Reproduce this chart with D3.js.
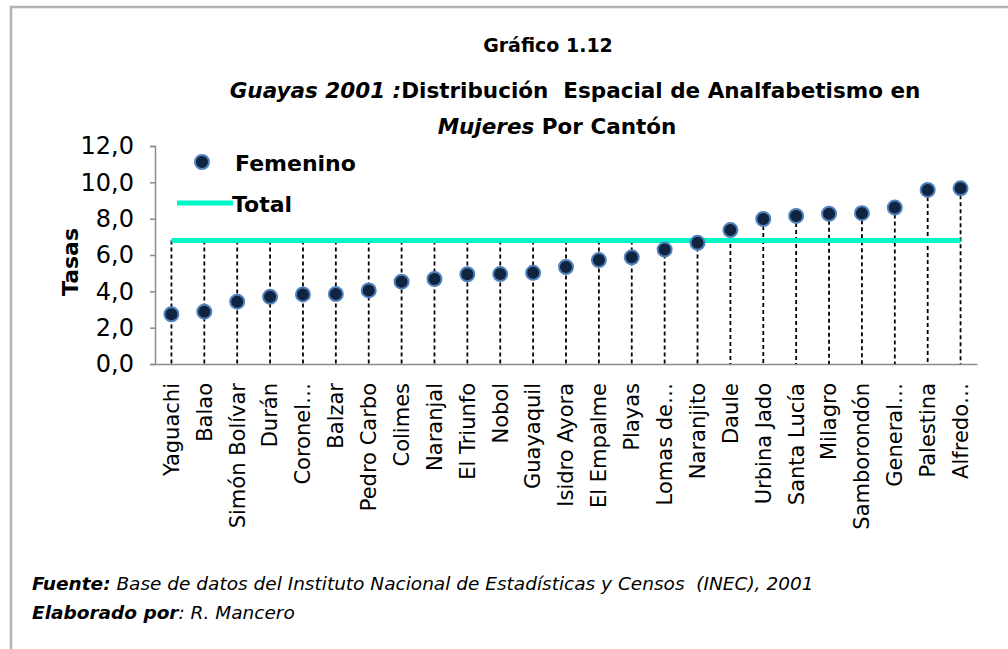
<!DOCTYPE html>
<html>
<head>
<meta charset="utf-8">
<script src="https://cdn.jsdelivr.net/npm/d3@7"></script>
<style>
  body { margin: 0; background: #fff; }
  text { font-family: "DejaVu Sans", sans-serif; fill: #000; white-space: pre; }
</style>
</head>
<body>
<script>
// categorias (cantones) y tasas de analfabetismo femenino
const cantones = ["Yaguachi","Balao","Simón Bolívar","Durán","Coronel…","Balzar","Pedro Carbo","Colimes","Naranjal","El Triunfo","Nobol","Guayaquil","Isidro Ayora","El Empalme","Playas","Lomas de…","Naranjito","Daule","Urbina Jado","Santa Lucía","Milagro","Samborondón","General…","Palestina","Alfredo…"];
const femenino = [2.74,2.88,3.43,3.70,3.83,3.85,4.05,4.53,4.68,4.94,4.95,5.02,5.34,5.72,5.87,6.30,6.67,7.37,7.98,8.15,8.27,8.30,8.61,9.58,9.67];
const tasaTotal = 6.8;
const yTicks = [0,2,4,6,8,10,12];

const W = 1008, H = 649;
const plot = {left: 155, right: 977, top: 146, bottom: 364};

const svg = d3.select("body").append("svg")
  .attr("width", W)
  .attr("height", H);

// marco exterior
svg.append("rect")
  .attr("x", 11).attr("y", 7)
  .attr("width", 1100).attr("height", 700)
  .attr("fill", "none")
  .attr("stroke", "#b3b3b3")
  .attr("stroke-width", 2.5);

const x = d3.scaleBand().domain(cantones).range([plot.left, plot.right]).padding(0);
const y = d3.scaleLinear().domain([0, 12]).range([plot.bottom, plot.top]);
const cx = d => x(d) + x.bandwidth() / 2;

// titulos
svg.append("text")
  .attr("x", 548).attr("y", 52)
  .attr("text-anchor", "middle")
  .attr("font-size", 19).attr("font-weight", "bold")
  .text("Gráfico 1.12");

const t1 = svg.append("text")
  .attr("x", 575).attr("y", 98)
  .attr("text-anchor", "middle")
  .attr("font-size", 21.5).attr("font-weight", "bold");
t1.append("tspan").attr("font-style", "italic").text("Guayas 2001 :");
t1.append("tspan").text("Distribución  Espacial de Analfabetismo en");

const t2 = svg.append("text")
  .attr("x", 557).attr("y", 134)
  .attr("text-anchor", "middle")
  .attr("font-size", 21.5).attr("font-weight", "bold");
t2.append("tspan").attr("font-style", "italic").text("Mujeres");
t2.append("tspan").text(" Por Cantón");

// eje y
const yAxis = svg.append("g")
  .attr("transform", `translate(${plot.left},0)`)
  .call(d3.axisLeft(y).tickValues(yTicks).tickSize(5)
    .tickFormat(d => d3.format(".1f")(d).replace(".", ",")));
yAxis.select(".domain").attr("stroke", "#8c8c8c").attr("stroke-width", 1.5);
yAxis.selectAll(".tick line").attr("stroke", "#8c8c8c").attr("stroke-width", 1.5);
yAxis.selectAll(".tick text")
  .attr("font-family", "DejaVu Sans")
  .attr("font-size", 24)
  .attr("x", -21)
  .attr("fill", "#000");

svg.append("text")
  .attr("transform", "translate(78,262) rotate(-90)")
  .attr("text-anchor", "middle")
  .attr("font-size", 22).attr("font-weight", "bold")
  .text("Tasas");

// eje x
const xAxis = svg.append("g")
  .attr("transform", `translate(0,${plot.bottom})`)
  .call(d3.axisBottom(x).tickSize(0).tickSizeOuter(0));
xAxis.select(".domain").attr("stroke", "#8c8c8c").attr("stroke-width", 1.5);
xAxis.selectAll(".tick text")
  .attr("font-family", "DejaVu Sans")
  .attr("font-size", 21)
  .attr("fill", "#000")
  .attr("text-anchor", "end")
  .attr("transform", "rotate(-90)")
  .attr("x", -19)
  .attr("y", 0)
  .attr("dy", ".35em");

// lineas de caida (desde el valor mas alto hasta el eje)
svg.append("g").selectAll("line")
  .data(cantones)
  .join("line")
  .attr("x1", d => cx(d)).attr("x2", d => cx(d))
  .attr("y1", (d, i) => y(Math.max(femenino[i], tasaTotal)))
  .attr("y2", y(0))
  .attr("stroke", "#000")
  .attr("stroke-width", 1.8)
  .attr("stroke-dasharray", "4,3");

// serie Total
svg.append("line")
  .attr("x1", cx(cantones[0])).attr("x2", cx(cantones[cantones.length - 1]))
  .attr("y1", y(tasaTotal)).attr("y2", y(tasaTotal))
  .attr("stroke", "#00f8c8")
  .attr("stroke-width", 5);

// serie Femenino
svg.append("g").selectAll("circle")
  .data(cantones)
  .join("circle")
  .attr("cx", d => cx(d))
  .attr("cy", (d, i) => y(femenino[i]))
  .attr("r", 7)
  .attr("fill", "#10233f")
  .attr("stroke", "#4f81bd")
  .attr("stroke-width", 2);

// leyenda
const leg = svg.append("g");
leg.append("circle")
  .attr("cx", 202).attr("cy", 162).attr("r", 7)
  .attr("fill", "#10233f").attr("stroke", "#4f81bd").attr("stroke-width", 2);
leg.append("text")
  .attr("x", 235).attr("y", 163).attr("dy", ".35em")
  .attr("font-size", 22).attr("font-weight", "bold")
  .text("Femenino");
leg.append("line")
  .attr("x1", 177).attr("x2", 233).attr("y1", 203).attr("y2", 203)
  .attr("stroke", "#00f8c8").attr("stroke-width", 5);
leg.append("text")
  .attr("x", 232).attr("y", 204).attr("dy", ".35em")
  .attr("font-size", 22).attr("font-weight", "bold")
  .text("Total");

// fuente
const f1 = svg.append("text")
  .attr("x", 32).attr("y", 590)
  .attr("font-size", 18.5).attr("font-style", "italic");
f1.append("tspan").attr("font-weight", "bold").text("Fuente:");
f1.append("tspan").text(" Base de datos del Instituto Nacional de Estadísticas y Censos  (INEC), 2001");

const f2 = svg.append("text")
  .attr("x", 32).attr("y", 619)
  .attr("font-size", 18.5).attr("font-style", "italic");
f2.append("tspan").attr("font-weight", "bold").text("Elaborado por");
f2.append("tspan").text(": R. Mancero");
</script>
</body>
</html>
